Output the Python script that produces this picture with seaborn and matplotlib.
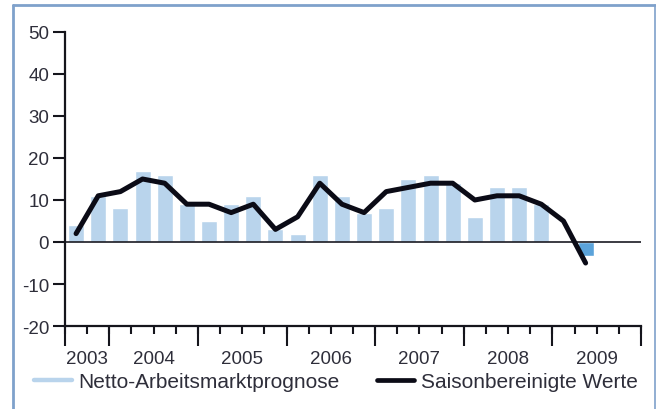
import numpy as np
import pandas as pd
import matplotlib
matplotlib.use("Agg")
import matplotlib.pyplot as plt
from matplotlib.lines import Line2D
import seaborn as sns

# Daten (Quartale 2003Q3 bis 2009Q4)
years = ["2003", "2004", "2005", "2006", "2007", "2008", "2009"]
quarters_per_year = [2, 4, 4, 4, 4, 4, 4]
netto = [4, 11,
         8, 17, 16, 9,
         5, 9, 11, 3,
         2, 16, 11, 7,
         8, 15, 16, 14,
         6, 13, 13, 9,
         np.nan, -3.3, np.nan, np.nan]
saison = [2, 11,
          12, 15, 14, 9,
          9, 7, 9, 3,
          6, 14, 9, 7,
          12, 13, 14, 14,
          10, 11, 11, 9,
          5, -5, np.nan, np.nan]

quarters = [f"{y}Q{q}" for y, n in zip(years, quarters_per_year)
            for q in range(5 - n, 5)]

light_blue = "#b9d4ec"
dark_blue = "#5ba3da"
line_col = "#0b0b16"
text_col = "#2e2e3a"
frame_col = "#7fa1cb"
axis_col = "#15151c"

sns.set_style("white")
plt.rcParams["font.family"] = ["Liberation Sans", "DejaVu Sans"]
plt.rcParams["axes.unicode_minus"] = False

df = pd.DataFrame({"quartal": quarters, "wert": netto})
df["vorzeichen"] = np.where(df["wert"] < 0, "neg", "pos")

fig = plt.figure(figsize=(6.56, 4.10), dpi=100)
ax = fig.add_axes([65 / 656, 1 - 327 / 410, 576 / 656, 294 / 410])

sns.barplot(data=df, x="quartal", y="wert", hue="vorzeichen", order=quarters,
            palette={"pos": light_blue, "neg": dark_blue}, dodge=False,
            width=0.72, legend=False, ax=ax, saturation=1)
pos = np.arange(len(quarters))
sns.lineplot(x=pos, y=saison, color=line_col, lw=3.6, ax=ax)

ax.axhline(0, color="#1a1a22", lw=1.2, zorder=1)
ax.set_xlim(-0.5, len(quarters) - 0.5)
ax.set_ylim(-20, 50)
ax.set_xlabel("")
ax.set_ylabel("")

# Achsen
for s in ["top", "right"]:
    ax.spines[s].set_visible(False)
for s in ["left", "bottom"]:
    ax.spines[s].set_color(axis_col)
    ax.spines[s].set_linewidth(1.6)

ax.set_yticks(range(-20, 51, 10))
ax.tick_params(axis="y", left=True, length=8.5, width=1.5, color=axis_col,
               pad=3, labelsize=13.5, labelcolor=text_col)

bounds = np.cumsum([0] + quarters_per_year) - 0.5
centers = (bounds[:-1] + bounds[1:]) / 2
ax.xaxis.remove_overlapping_locs = False
ax.set_xticks(centers, labels=years)
ax.set_xticks(np.arange(len(quarters) + 1) - 0.5, minor=True)
ax.tick_params(axis="x", which="major", bottom=True, length=0, pad=17,
               labelsize=13.5, labelcolor=text_col)
ax.tick_params(axis="x", which="minor", bottom=True, length=6, width=1.5,
               color=axis_col)

sec = ax.secondary_xaxis("bottom")
sec.set_xticks(bounds, labels=[""] * len(bounds))
sec.tick_params(bottom=True, length=14.5, width=1.5, color=axis_col)
sec.spines["bottom"].set_visible(False)

# Legende
handles = [Line2D([], [], color=light_blue, lw=3.2),
           Line2D([], [], color=line_col, lw=3.4)]
fig.legend(handles, ["Netto-Arbeitsmarktprognose", "Saisonbereinigte Werte"],
           loc="center", bbox_to_anchor=(0.512, 1 - 383 / 410), ncol=2,
           frameon=False, fontsize=15, handlelength=1.8, handletextpad=0.3,
           columnspacing=1.8, labelcolor=text_col)

# Rahmen
x0, x1, yt = 12.5 / 656, 655 / 656, 1 - 6 / 410
fig.add_artist(Line2D([x0, x1], [yt, yt], color=frame_col, lw=2))
fig.add_artist(Line2D([x0, x0], [yt, -0.05], color=frame_col, lw=2))
fig.add_artist(Line2D([x1, x1], [yt, -0.05], color=frame_col, lw=1.2))

fig.savefig("out.png", dpi=100)
